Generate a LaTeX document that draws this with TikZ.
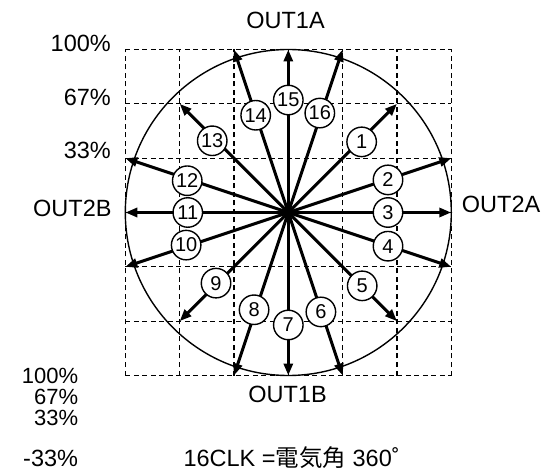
\documentclass[tikz,border=0pt]{standalone}
\usepackage{fontspec}
\setmainfont{Liberation Sans}
\newfontfamily\cjk{Noto Sans CJK JP}
\usetikzlibrary{arrows.meta}
\begin{document}
\begin{tikzpicture}[x=1pt,y=-1pt,
  txt/.style={font=\fontsize{23.5}{23.5}\selectfont, inner sep=0pt},
  num/.style={circle, draw, fill=white, line width=1.4pt, minimum size=29.5pt, inner sep=0pt, font=\fontsize{20}{20}\selectfont},
  vec/.style={line width=3pt, -{Triangle[length=12pt,width=9pt]}},
  gridl/.style={line width=1.1pt, dash pattern=on 5pt off 3.5pt},
  ring/.style={line width=1.4pt},
]
\useasboundingbox (0,0) rectangle (557,473);
\coordinate (O) at (288.3,212.5);
\begin{scope}[shift={(O)}, x=54.333pt, y=54.333pt]
  \foreach \k in {-3,...,3} {
    \draw[gridl] (\k,-3) -- (\k,3);
    \draw[gridl] (-3,\k) -- (3,\k);
  }
  \draw[ring] (0,0) circle[radius=3];
  \foreach \i/\a/\b in {1/2/2,2/3/1,3/3/0,4/3/-1,5/2/-2,6/1/-3,7/0/-3,8/-1/-3,9/-2/-2,10/-3/-1,11/-3/0,12/-3/1,13/-2/2,14/-1/3,15/0/3,16/1/3}
    \coordinate (t\i) at (\a,\b);
  \foreach \i in {1,...,16}
    \draw[vec] (O) -- (t\i);
  \foreach \i/\a/\b in {1/1.35/1.30,2/1.835/0.60,3/1.835/0,4/1.835/-0.62,5/1.36/-1.35,6/0.60/-1.83,7/0/-2.07,8/-0.63/-1.79,9/-1.33/-1.30,10/-1.88/-0.60,11/-1.85/0,12/-1.86/0.585,13/-1.40/1.32,14/-0.60/1.79,15/0/2.07,16/0.58/1.83}
    \node[num] (n\i) at (\a,\b) {\i};
\end{scope}
\node[txt, anchor=base] (out1a) at (285.5,28.3) {OUT1A};
\node[txt, anchor=base] (out1b) at (287.5,402.7) {OUT1B};
\node[txt, anchor=base west] (out2a) at (461.7,212.7) {OUT2A};
\node[txt, anchor=base east] (out2b) at (111.7,216.5) {OUT2B};
\node[txt, anchor=base east] (p100) at (111,51.7) {100\%};
\node[txt, anchor=base east] (p67) at (111,106) {67\%};
\node[txt, anchor=base east] (p33) at (111,159) {33\%};
\node[txt, anchor=base east, font=\fontsize{22}{22}\selectfont] (q100) at (78.3,383.3) {100\%};
\node[txt, anchor=base east, font=\fontsize{22}{22}\selectfont] (q67) at (78.3,404.3) {67\%};
\node[txt, anchor=base east, font=\fontsize{22}{22}\selectfont] (q33) at (78.3,425.3) {33\%};
\node[txt, anchor=base east] (qm33) at (78.3,466.7) {-33\%};
\node[txt, anchor=base west] (clk) at (183.3,466.7) {16CLK =\cjk 電気角\rmfamily\ 360˚};
\end{tikzpicture}
\end{document}
